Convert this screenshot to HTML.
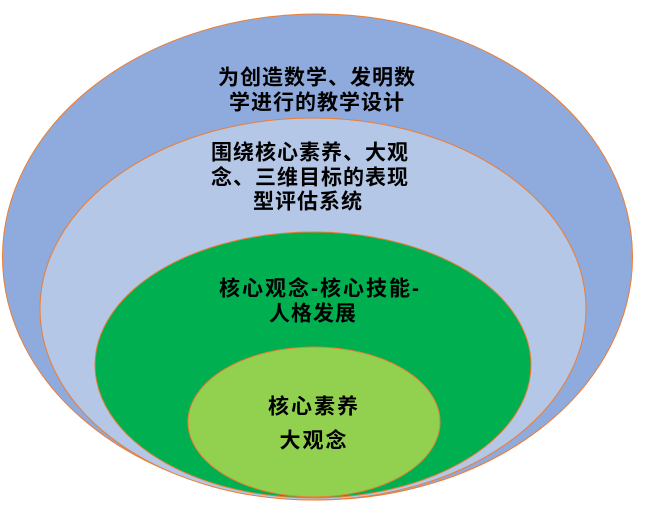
<!DOCTYPE html>
<html><head><meta charset="utf-8"><style>
html,body{margin:0;padding:0;background:#fff;}
svg text{font-family:"Liberation Sans","Noto Sans CJK SC",sans-serif;font-weight:bold;font-size:21px;fill:#000;text-anchor:middle;dominant-baseline:central;}
</style></head><body>
<svg width="648" height="508" viewBox="0 0 648 508" xmlns="http://www.w3.org/2000/svg">
<ellipse cx="317.5" cy="257" rx="315" ry="243" fill="#8FAADC" stroke="#ED7D31" stroke-width="1"/>
<ellipse cx="313" cy="309" rx="273" ry="191" fill="#B4C7E7" stroke="#ED7D31" stroke-width="1"/>
<ellipse cx="313" cy="365" rx="218" ry="133" fill="#00B050" stroke="#ED7D31" stroke-width="1"/>
<ellipse cx="314" cy="422" rx="126" ry="75" fill="#92D050" stroke="#ED7D31" stroke-width="1"/>
<text x="317" y="78" letter-spacing="1">为创造数学、发明数</text>
<text x="317" y="103" letter-spacing="1">学进行的教学设计</text>
<text x="310" y="153" letter-spacing="1">围绕核心素养、大观</text>
<text x="310" y="178" letter-spacing="1">念、三维目标的表现</text>
<text x="308" y="202" letter-spacing="1">型评估系统</text>
<text x="320" y="289" letter-spacing="2">核心观念-核心技能-</text>
<text x="313" y="314" letter-spacing="1">人格发展</text>
<text x="314" y="407" font-size="23" letter-spacing="2">核心素养</text>
<text x="314" y="441" font-size="23" letter-spacing="2">大观念</text>
</svg>
</body></html>
